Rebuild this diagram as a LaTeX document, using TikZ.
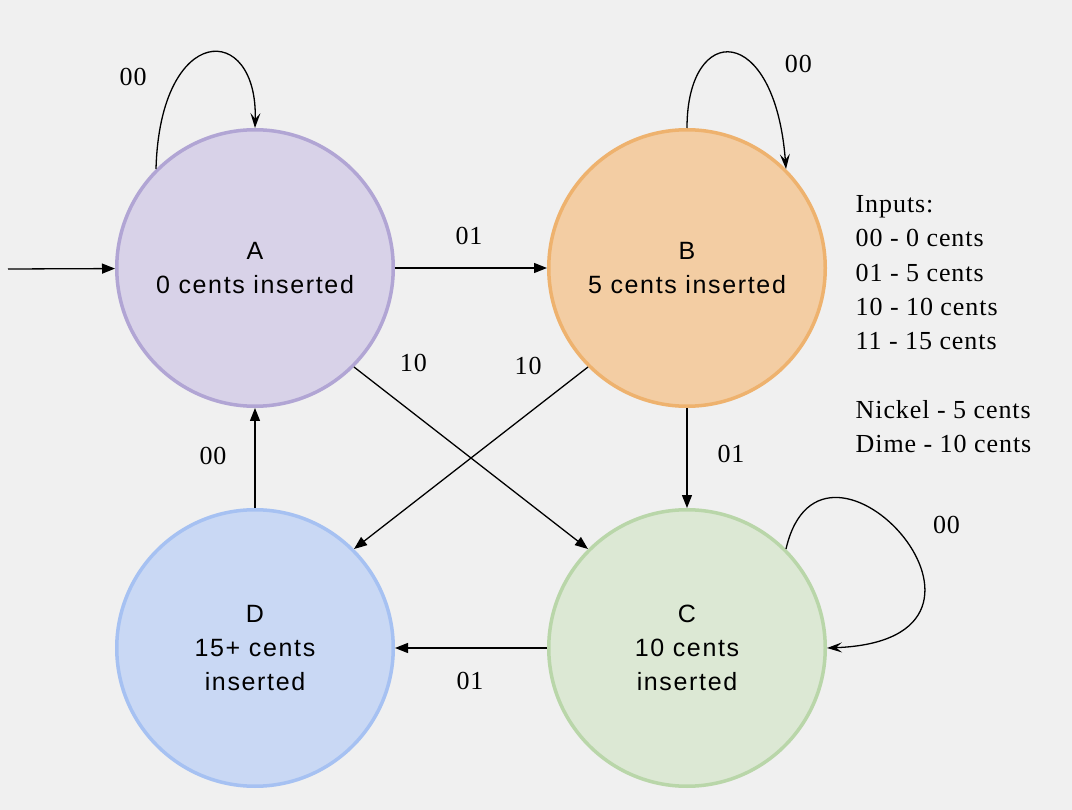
\documentclass[tikz,border=0pt]{standalone}
\usepackage{fontspec}
\setmainfont{Liberation Serif}
\newfontfamily\statefont[LetterSpace=6.6]{Liberation Sans}
\newfontfamily\lblfont[LetterSpace=3.6]{Liberation Serif}
\usepackage{tikz}
\usetikzlibrary{arrows.meta,automata,positioning}

\definecolor{bgcol}{HTML}{F0F0F0}
\definecolor{fillA}{HTML}{D8D2E8}
\definecolor{lineA}{HTML}{B1A5D4}
\definecolor{fillB}{HTML}{F3CDA3}
\definecolor{lineB}{HTML}{EEB26E}
\definecolor{fillC}{HTML}{DCE8D4}
\definecolor{lineC}{HTML}{B9D6A9}
\definecolor{fillD}{HTML}{C9D8F4}
\definecolor{lineD}{HTML}{A6C1F2}

\begin{document}
\begin{tikzpicture}[->,>={Triangle[length=13pt,width=10pt]},x=1pt,y=1pt,line width=1.3pt,node distance=380pt and 432pt,on grid]
    \tikzstyle{every state}=[text=black,line width=3.5pt,minimum size=276.5pt,align=center,font=\statefont\fontsize{25}{34}\selectfont]
    \tikzstyle{lbl}=[font=\lblfont\fontsize{26}{34.3}\selectfont,inner sep=0pt]
    \tikzstyle{loopy}=[-{Stealth[length=15pt,width=10pt,inset=6pt]}]
    \fill[bgcol,-] (0,0) rectangle (1072,-810);
    \node[state,fill=fillA,draw=lineA]  (A) at (255,-268)  {A\\0 cents inserted};
    \node[state,fill=fillB,draw=lineB]  (B) [right=of A]   {B\\5 cents inserted};
    \node[state,fill=fillD,draw=lineD]  (D) [below=of A]   {D\\15+ cents\\inserted};
    \node[state,fill=fillC,draw=lineC]  (C) [below=of B]   {C\\10 cents\\inserted};
    \coordinate (start) at (8,-269);
    \node[lbl,anchor=north west,align=left] (inputs) at (855,-195)
        {Inputs:\\00 - 0 cents\\01 - 5 cents\\10 - 10 cents\\11 - 15 cents\\[34pt]Nickel - 5 cents\\Dime - 10 cents};
    \path (start) edge (A)
    (A) edge node[lbl,xshift=-2pt,yshift=32pt] {01} (B)
    (A.-45) edge node[lbl,pos=.16,xshift=22pt,yshift=33pt] {10} (C.135)
    (B.-135) edge node[lbl,pos=.2,xshift=-13pt,yshift=37pt] {10} (D.45)
    (B) edge node[lbl,xshift=44pt,yshift=4pt] {01} (C)
    (C) edge node[lbl,xshift=-1pt,yshift=-33pt] {01} (D)
    (D) edge node[lbl,xshift=-42pt,yshift=2pt] {00} (A);
    % self loops
    \draw[loopy] (A.135) .. controls +(4,147) and +(3,107) .. (A.north)
        node[lbl,pos=.5,xshift=-75pt,yshift=-24pt] {00};
    \draw[loopy] (B.north) .. controls +(0,107) and +(-11,147) .. (B.45)
        node[lbl,pos=.5,xshift=66pt,yshift=-11pt] {00};
    \draw[loopy] (C.45) .. controls +(36,156) and +(220,8) .. (C.east)
        node[lbl,pos=.5,xshift=44pt,yshift=12pt] {00};
\end{tikzpicture}
\end{document}
